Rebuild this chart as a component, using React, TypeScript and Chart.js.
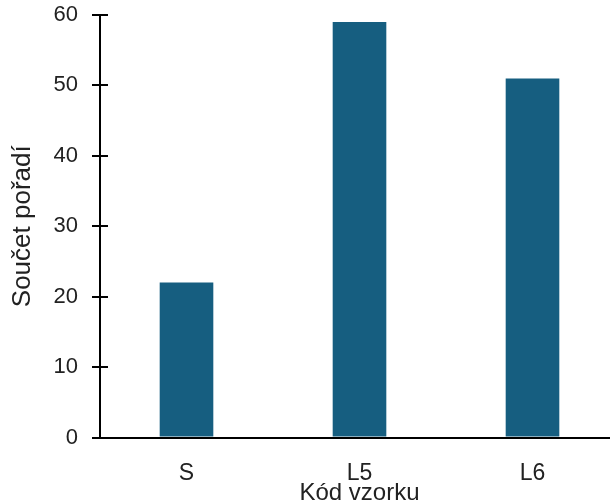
import React, { useEffect, useRef } from "react";
import { Chart, registerables } from "chart.js";

Chart.register(...registerables);

const categories = ["S", "L5", "L6"];
const values = [22, 59, 51];
const yTicks = [0, 10, 20, 30, 40, 50, 60];

const W = 619;
const H = 512;
const FONT = "'Liberation Sans', Arial, sans-serif";

const innerTicks = {
  id: "innerTicks",
  afterDraw(chart: any) {
    const y = chart.scales.y;
    const ctx = chart.ctx;
    ctx.save();
    ctx.strokeStyle = "#000";
    ctx.lineWidth = 2;
    y.ticks.forEach((t: any) => {
      const py = Math.round(y.getPixelForValue(t.value));
      ctx.beginPath();
      ctx.moveTo(y.right, py);
      ctx.lineTo(y.right + 8, py);
      ctx.stroke();
    });
    ctx.restore();
  },
};

export default function App() {
  const ref = useRef<HTMLCanvasElement | null>(null);
  useEffect(() => {
    if (!ref.current) return;
    const chart = new Chart(ref.current, {
      type: "bar",
      data: {
        labels: categories,
        datasets: [
          {
            data: values,
            backgroundColor: "#165e80",
            categoryPercentage: 1,
            barPercentage: 0.31,
          },
        ],
      },
      options: {
        animation: false,
        responsive: false,
        layout: { padding: { top: 15, left: 0, right: 0, bottom: 0 } },
        plugins: { legend: { display: false }, tooltip: { enabled: false } },
        scales: {
          x: {
            grid: { display: false, drawTicks: false },
            border: { display: true, color: "#000", width: 2 },
            ticks: { color: "#222", font: { family: FONT, size: 23 }, padding: 22 },
            title: {
              display: true,
              text: "Kód vzorku",
              color: "#222",
              font: { family: FONT, size: 24 },
              padding: { top: 0, bottom: 4 },
            },
            afterFit: (s: any) => {
              s.height = H - 437.5;
              s.paddingLeft = 0;
              s.paddingRight = 0;
            },
          },
          y: {
            min: 0,
            max: 60,
            afterBuildTicks: (s: any) => {
              s.ticks = yTicks.map((v) => ({ value: v }));
            },
            grid: { display: true, drawOnChartArea: false, drawTicks: true, tickLength: 8, color: "#000", lineWidth: 2 },
            border: { display: true, color: "#000", width: 2 },
            ticks: { color: "#222", font: { family: FONT, size: 22 }, padding: 14 },
            title: {
              display: true,
              text: "Součet pořadí",
              color: "#222",
              font: { family: FONT, size: 26 },
              padding: { top: 7, bottom: 0 },
            },
            afterFit: (s: any) => {
              s.width = 100;
              s.paddingTop = 0;
              s.paddingBottom = 0;
            },
          },
        },
      },
      plugins: [innerTicks],
    });
    return () => chart.destroy();
  }, []);
  return (
    <div style={{ position: "absolute", left: 0, top: 0, width: 610, height: 503, overflow: "hidden" }}>
      <canvas ref={ref} width={W} height={H} style={{ width: W, height: H, display: "block" }} />
    </div>
  );
}
